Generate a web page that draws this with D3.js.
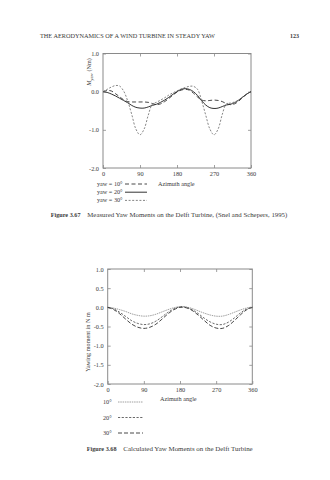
<!DOCTYPE html>
<html>
<head>
<meta charset="utf-8">
<script src="https://cdn.jsdelivr.net/npm/d3@7"></script>
<style>
  body { margin: 0; background: #fff; }
  svg { display: block; }
  text { font-family: "Liberation Serif", "DejaVu Serif", serif; fill: #3a3a3a; }
</style>
</head>
<body>
<svg id="page" width="330" height="480"></svg>
<script>
// ---- Figure 3.67: measured yaw moments ----
const measuredAzimuth = [0,10,20,30,40,50,60,70,80,90,100,110,120,130,140,150,160,170,180,
  190,200,210,220,230,240,250,260,270,280,290,300,310,320,330,340,350,360];
const measuredYaw10 = [0.00,0.03,0.02,-0.05,-0.13,-0.21,-0.26,-0.27,-0.27,-0.27,-0.27,-0.28,-0.31,-0.34,-0.32,-0.26,-0.18,-0.09,-0.01,
  0.04,0.06,0.04,-0.04,-0.14,-0.22,-0.24,-0.23,-0.22,-0.23,-0.26,-0.31,-0.34,-0.32,-0.25,-0.15,-0.06,0.00];
const measuredYaw20 = [0.00,-0.02,-0.06,-0.11,-0.17,-0.23,-0.29,-0.36,-0.41,-0.43,-0.43,-0.40,-0.36,-0.33,-0.28,-0.22,-0.15,-0.07,0.00,
  0.06,0.08,0.06,0.00,-0.10,-0.24,-0.35,-0.42,-0.44,-0.43,-0.39,-0.35,-0.33,-0.29,-0.22,-0.14,-0.06,0.00];
const measuredYaw30 = [0.00,0.06,0.12,0.16,0.15,0.02,-0.24,-0.60,-0.98,-1.13,-0.98,-0.62,-0.33,-0.28,-0.22,-0.16,-0.09,-0.03,0.02,
  0.07,0.11,0.14,0.14,0.06,-0.24,-0.62,-0.98,-1.13,-0.98,-0.60,-0.32,-0.30,-0.27,-0.22,-0.14,-0.06,0.00];
const measuredYTicks = [1.0, 0.0, -1.0, -2.0];

// ---- Figure 3.68: calculated yaw moments ----
const calculatedAzimuth = [0,15,30,45,60,75,90,105,120,135,150,165,180,195,210,225,240,255,270,285,300,315,330,345,360];
const calculatedYaw10 = [0.00,-0.02,-0.06,-0.11,-0.17,-0.21,-0.23,-0.22,-0.18,-0.12,-0.06,-0.01,0.02,0.01,-0.03,-0.09,-0.15,-0.20,-0.23,-0.23,-0.19,-0.13,-0.07,-0.02,0.01];
const calculatedYaw20 = [0.00,-0.04,-0.13,-0.24,-0.35,-0.42,-0.45,-0.43,-0.36,-0.25,-0.13,-0.04,0.01,0.00,-0.06,-0.16,-0.28,-0.38,-0.44,-0.45,-0.39,-0.28,-0.15,-0.05,0.00];
const calculatedYaw30 = [0.00,-0.06,-0.17,-0.31,-0.44,-0.52,-0.55,-0.52,-0.44,-0.31,-0.17,-0.06,0.00,-0.01,-0.08,-0.20,-0.34,-0.47,-0.54,-0.55,-0.48,-0.35,-0.20,-0.07,0.00];
const calculatedYTicks = [1.0, 0.5, 0.0, -0.5, -1.0, -1.5, -2.0];

const azimuthTicks = [0, 90, 180, 270, 360];

const svg = d3.select("#page");
const ink = "#3a3a3a";
const frameColor = "#8a8a8a";

function drawPanel(cfg) {
  const x = d3.scaleLinear().domain([0, 360]).range([cfg.left, cfg.right]);
  const y = d3.scaleLinear().domain([-2, 1]).range([cfg.bottom, cfg.top]);
  const g = svg.append("g");

  // inward ticks on all four sides
  const fmt = d => d.toFixed(1);
  const styleAxis = sel => {
    sel.select(".domain").remove();
    sel.selectAll(".tick line").attr("stroke", frameColor).attr("stroke-width", 0.8);
    sel.selectAll(".tick text").attr("fill", ink).style("font-size", "6.3px")
      .style("font-family", '"Liberation Serif", serif');
  };
  g.append("g").attr("transform", `translate(0,${cfg.bottom})`)
    .call(d3.axisBottom(x).tickValues(azimuthTicks).tickFormat(d3.format("d"))
      .tickSizeInner(-3).tickSizeOuter(0).tickPadding(4))
    .call(styleAxis);
  g.append("g").attr("transform", `translate(0,${cfg.top})`)
    .call(d3.axisTop(x).tickValues(azimuthTicks.slice(1, -1)).tickFormat("")
      .tickSizeInner(-3).tickSizeOuter(0))
    .call(styleAxis);
  g.append("g").attr("transform", `translate(${cfg.left},0)`)
    .call(d3.axisLeft(y).tickValues(cfg.yTicks).tickFormat(fmt)
      .tickSizeInner(-3).tickSizeOuter(0).tickPadding(4))
    .call(styleAxis);
  g.append("g").attr("transform", `translate(${cfg.right},0)`)
    .call(d3.axisRight(y).tickValues(cfg.yTicks).tickFormat("")
      .tickSizeInner(-3).tickSizeOuter(0))
    .call(styleAxis);

  // plot frame
  g.append("rect")
    .attr("x", cfg.left).attr("y", cfg.top)
    .attr("width", cfg.right - cfg.left).attr("height", cfg.bottom - cfg.top)
    .attr("fill", "none").attr("stroke", frameColor).attr("stroke-width", 1);

  const line = d3.line().curve(d3.curveCatmullRom.alpha(0.5))
    .x(d => x(d[0])).y(d => y(d[1]));

  cfg.series.forEach(s => {
    g.append("path")
      .datum(cfg.azimuth.map((a, i) => [a, s.values[i]]))
      .attr("d", line)
      .attr("fill", "none")
      .attr("stroke", s.color)
      .attr("stroke-width", s.width)
      .attr("stroke-dasharray", s.dash);
  });

  // legend
  cfg.series.forEach((s, i) => {
    const ly = cfg.legendY + i * cfg.legendStep;
    g.append("text").attr("x", cfg.legendTextX).attr("y", ly + 2)
      .style("font-size", "6.2px").text(s.label);
    g.append("line")
      .attr("x1", cfg.legendLine[0]).attr("x2", cfg.legendLine[1])
      .attr("y1", ly).attr("y2", ly)
      .attr("stroke", s.color).attr("stroke-width", s.width)
      .attr("stroke-dasharray", s.dash);
  });
  g.append("text").attr("x", cfg.xTitleX).attr("y", cfg.xTitleY)
    .style("font-size", "6.2px").text("Azimuth angle");
}

drawPanel({
  left: 103, right: 251, top: 53.5, bottom: 168,
  yTicks: measuredYTicks,
  azimuth: measuredAzimuth,
  series: [
    { label: "yaw = 10\u00b0", values: measuredYaw10, color: "#333", width: 0.9, dash: "4,2.5" },
    { label: "yaw = 20\u00b0", values: measuredYaw20, color: "#333", width: 1.0, dash: null },
    { label: "yaw = 30\u00b0", values: measuredYaw30, color: "#666", width: 0.8, dash: "2,1.6" }
  ],
  legendTextX: 97, legendY: 184, legendStep: 8.2, legendLine: [125, 147],
  xTitleX: 158, xTitleY: 186
});

drawPanel({
  left: 107.7, right: 252.3, top: 269, bottom: 384,
  yTicks: calculatedYTicks,
  azimuth: calculatedAzimuth,
  series: [
    { label: "10\u00b0", values: calculatedYaw10, color: "#888", width: 0.8, dash: "1.5,0.8" },
    { label: "20\u00b0", values: calculatedYaw20, color: "#444", width: 0.8, dash: "2.2,1.5" },
    { label: "30\u00b0", values: calculatedYaw30, color: "#333", width: 0.9, dash: "4,2" }
  ],
  legendTextX: 103, legendY: 402, legendStep: 15.5, legendLine: [118, 143],
  xTitleX: 160, xTitleY: 401
});

// y-axis titles
const t1 = svg.append("text")
  .attr("transform", "translate(91,72) rotate(-90)")
  .attr("text-anchor", "middle").style("font-size", "6.2px");
t1.append("tspan").style("font-style", "italic").text("M");
t1.append("tspan").attr("dy", 1.5).style("font-size", "4.5px").text("yaw");
t1.append("tspan").attr("dy", -1.5).text(" (Nm)");

svg.append("text")
  .attr("transform", "translate(90,342) rotate(-90)")
  .attr("text-anchor", "middle").style("font-size", "6.2px")
  .text("Yawing moment in N m");

// running header and captions
svg.append("text").attr("x", 40).attr("y", 37.5)
  .attr("textLength", 175).attr("lengthAdjust", "spacingAndGlyphs")
  .style("font-size", "6px").text("THE AERODYNAMICS OF A WIND TURBINE IN STEADY YAW");
svg.append("text").attr("x", 290).attr("y", 37.5)
  .style("font-size", "6px").style("font-weight", "bold").text("123");

svg.append("text").attr("x", 50.7).attr("y", 217)
  .style("font-size", "6.2px").style("font-weight", "bold").text("Figure 3.67");
svg.append("text").attr("x", 87.3).attr("y", 217)
  .attr("textLength", 200).attr("lengthAdjust", "spacingAndGlyphs")
  .style("font-size", "6.2px")
  .text("Measured Yaw Moments on the Delft Turbine, (Snel and Schepers, 1995)");

svg.append("text").attr("x", 86.7).attr("y", 451)
  .style("font-size", "6.2px").style("font-weight", "bold").text("Figure 3.68");
svg.append("text").attr("x", 123.3).attr("y", 451)
  .attr("textLength", 129.4).attr("lengthAdjust", "spacingAndGlyphs")
  .style("font-size", "6.2px")
  .text("Calculated Yaw Moments on the Delft Turbine");
</script>
</body>
</html>
